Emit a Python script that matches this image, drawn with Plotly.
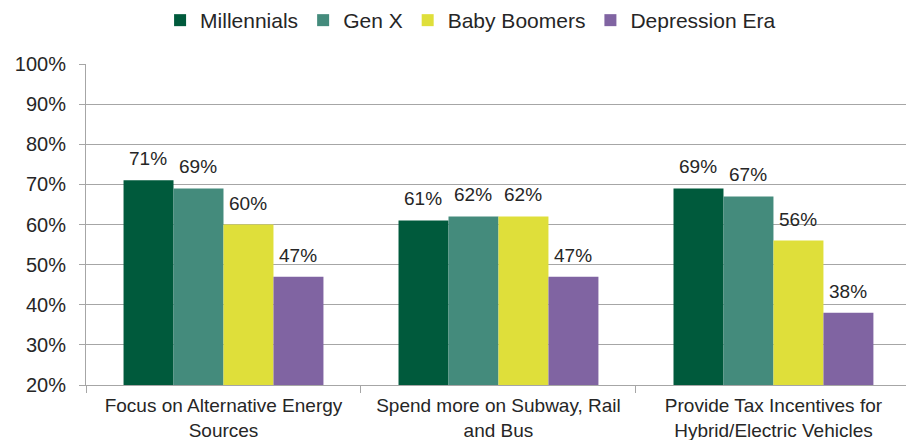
import plotly.graph_objects as go

categories = ["Focus on Alternative Energy<br>Sources",
              "Spend more on Subway, Rail<br>and Bus",
              "Provide Tax Incentives for<br>Hybrid/Electric Vehicles"]
millennials = [71, 61, 69]
gen_x = [69, 62, 67]
baby_boomers = [60, 62, 56]
depression_era = [47, 47, 38]

series = [
    ("Millennials", millennials, "#005a3c"),
    ("Gen X", gen_x, "#448b7c"),
    ("Baby Boomers", baby_boomers, "#dfdf3a"),
    ("Depression Era", depression_era, "#8064a2"),
]

TEXT = "#262626"
GRID = "#a6a6a6"
BAR_PX = 50  # width of one bar in pixels, used to offset the value labels

fig = go.Figure()
annotations = []
n = len(series)
for i, (name, vals, color) in enumerate(series):
    fig.add_trace(go.Bar(
        x=categories, y=vals, name=name,
        marker=dict(color=color, line=dict(width=0)),
    ))
    offset = (i - (n - 1) / 2) * BAR_PX
    for cat, v in zip(categories, vals):
        annotations.append(dict(
            x=cat, y=v, xref="x", yref="y", text=f"{v}%",
            showarrow=False, xanchor="center", yanchor="bottom",
            xshift=offset, yshift=9,
            font=dict(size=19, color=TEXT),
        ))

fig.update_layout(
    width=906, height=440,
    margin=dict(l=86, r=0, t=64, b=55),
    paper_bgcolor="white", plot_bgcolor="white",
    barmode="group", bargap=0.273, bargroupgap=0,
    font=dict(family="Liberation Sans", size=19, color=TEXT),
    legend=dict(orientation="h", x=0.469, xanchor="center", y=1.0, yref="container",
                yanchor="top", font=dict(size=21), itemwidth=30, traceorder="normal",
                bgcolor="rgba(0,0,0,0)", tracegroupgap=0),
    annotations=annotations,
)
fig.update_xaxes(
    range=[-0.5, 2.482], tickson="boundaries", ticks="outside", ticklen=7,
    tickcolor=GRID, showline=True, linecolor=GRID, linewidth=1,
    tickfont=dict(size=19, color=TEXT), showgrid=False, ticklabelstandoff=3,
    automargin=False,
)
fig.update_yaxes(
    range=[20, 100], dtick=10, ticksuffix="%", ticks="outside", ticklen=6,
    tickcolor=GRID, showline=True, linecolor=GRID, linewidth=1,
    gridcolor=GRID, gridwidth=1, zeroline=False, ticklabelstandoff=9,
    tickfont=dict(size=20, color=TEXT), automargin=False,
)

fig.write_html("out.html")
